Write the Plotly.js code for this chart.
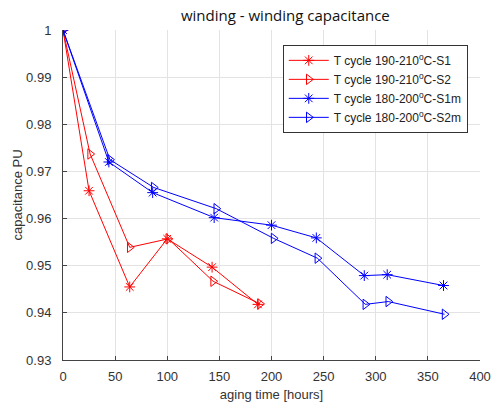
<!DOCTYPE html>
<html>
<head>
<meta charset="utf-8">
<script src="https://cdn.plot.ly/plotly-3.0.1.min.js"></script>
<style>html,body{margin:0;padding:0;background:#fff;}#chart{width:492px;height:402px;}</style>
</head>
<body>
<div id="chart"></div>
<script>
const names = ["T cycle 190-210<sup>o</sup>C-S1", "T cycle 190-210<sup>o</sup>C-S2", "T cycle 180-200<sup>o</sup>C-S1m", "T cycle 180-200<sup>o</sup>C-S2m"];
const s1_x = [0, 25, 64, 100, 143, 187];
const s1_y = [1.0, 0.9659, 0.9455, 0.9557, 0.9497, 0.9418];
const s2_x = [0, 26, 64, 101, 144, 189];
const s2_y = [1.0, 0.9737, 0.9539, 0.9557, 0.9467, 0.9419];
const s1m_x = [0, 44, 86, 145, 200, 243, 289, 311, 365];
const s1m_y = [1.0, 0.9720, 0.9655, 0.9602, 0.9586, 0.9559, 0.9479, 0.9481, 0.9458];
const s2m_x = [0, 45, 87, 147, 202, 244, 290, 312, 366];
const s2m_y = [1.0, 0.9725, 0.9666, 0.9621, 0.9558, 0.9516, 0.9418, 0.9424, 0.9397];
const xTicks = [0, 50, 100, 150, 200, 250, 300, 350, 400];
const yTicks = [0.93, 0.94, 0.95, 0.96, 0.97, 0.98, 0.99, 1];
const yTickText = ["0.93", "0.94", "0.95", "0.96", "0.97", "0.98", "0.99", "1"];

const RED = "#ff0000", BLUE = "#0000ff";
function tr(x, y, name, color, sym) {
  return {x: x, y: y, name: name, type: "scatter", mode: "lines+markers",
    line: {color: color, width: 1},
    marker: {symbol: sym, size: 9, color: color, line: {color: color, width: 1}}};
}
const data = [
  tr(s1_x, s1_y, names[0], RED, "asterisk-open"),
  tr(s2_x, s2_y, names[1], RED, "triangle-right-open"),
  tr(s1m_x, s1m_y, names[2], BLUE, "asterisk-open"),
  tr(s2m_x, s2m_y, names[3], BLUE, "triangle-right-open")
];
const layout = {
  width: 492, height: 402,
  margin: {l: 63, r: 12, t: 30, b: 42},
  paper_bgcolor: "#fff", plot_bgcolor: "#fff",
  font: {family: "Liberation Sans, Arial, sans-serif", size: 12, color: "#333"},
  title: {text: "winding - winding capacitance", x: 0.58, xanchor: "center", y: 0.962, yanchor: "middle",
    font: {family: "Open Sans, sans-serif", size: 15, color: "#111"}},
  xaxis: {range: [0, 400], tickvals: xTicks, ticktext: xTicks.map(String),
    showgrid: true, gridcolor: "#e3e3e3", zeroline: false,
    showline: true, linecolor: "#444", linewidth: 1, ticks: "inside", ticklen: 4, tickcolor: "#444",
    ticklabelstandoff: 4,
    tickfont: {size: 13, color: "#333"},
    title: {text: "aging time [hours]", standoff: 8, font: {size: 13, color: "#333"}}},
  yaxis: {range: [0.93, 1.0], tickvals: yTicks, ticktext: yTickText,
    showgrid: true, gridcolor: "#e3e3e3", zeroline: false,
    showline: true, linecolor: "#444", linewidth: 1, ticks: "inside", ticklen: 4, tickcolor: "#444",
    ticklabelstandoff: 8,
    tickfont: {size: 13, color: "#333"},
    title: {text: "capacitance PU", standoff: 0, font: {size: 13, color: "#333"}}},
  legend: {x: 0.527, y: 0.955, xanchor: "left", yanchor: "top",
    bgcolor: "#fff", bordercolor: "#333", borderwidth: 1,
    font: {size: 12, color: "#222"}, tracegroupgap: 0, itemwidth: 40},
  showlegend: true
};
Plotly.newPlot("chart", data, layout, {displayModeBar: false, staticPlot: true});
</script>
</body>
</html>
